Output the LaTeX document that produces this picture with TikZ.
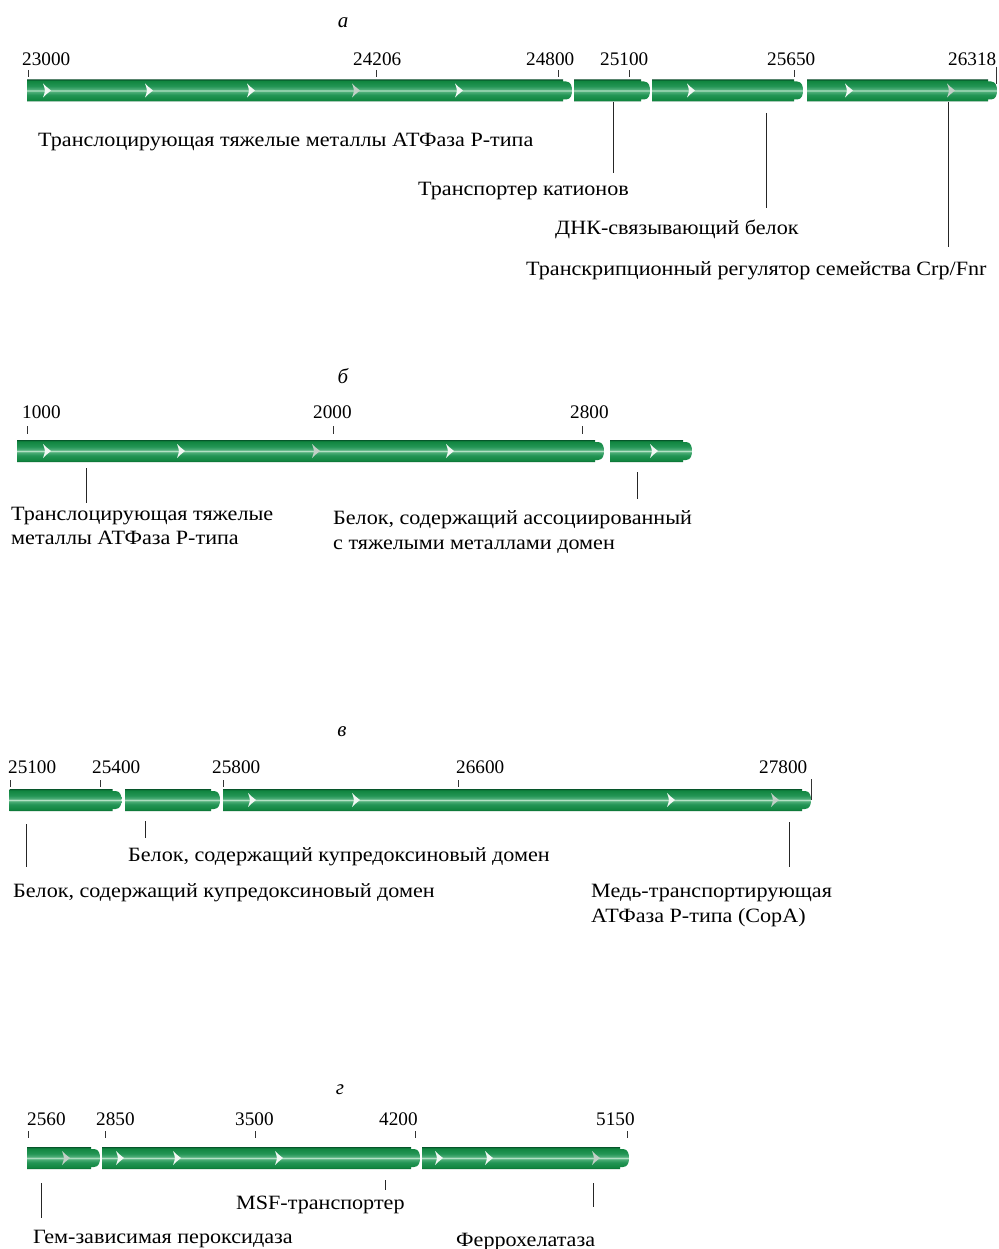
\documentclass[tikz,border=0pt]{standalone}
\usepackage{fontspec}
\setmainfont{Liberation Serif}
\newfontfamily\labfont[FakeStretch=1.09]{Liberation Serif}
\definecolor{gd}{HTML}{06552A}
\definecolor{gm}{HTML}{10853F}
\definecolor{gml}{HTML}{239555}
\definecolor{gl}{HTML}{4DAE78}
\definecolor{gw}{HTML}{B5E2C6}
\definecolor{chw}{HTML}{F2F8F4}
\definecolor{chg}{HTML}{C2D0C7}
\pgfdeclareverticalshading{genesh}{100bp}{color(0bp)=(gd); color(25bp)=(gd); color(28bp)=(gm); color(40bp)=(gml); color(47bp)=(gl); color(50bp)=(gw); color(53bp)=(gl); color(60bp)=(gml); color(72bp)=(gm); color(75bp)=(gd); color(100bp)=(gd)}
\newcommand\gene[3]{%
  \shade[shading=genesh] ({#1},{#3-11}) -- ({#2-9},{#3-11}) -- ({#2-9},{#3-9}) -- ({#2-6},{#3-9})
    .. controls ({#2-1},{#3-9}) and ({#2},{#3-4}) .. ({#2},{#3})
    .. controls ({#2},{#3+4}) and ({#2-1},{#3+9}) .. ({#2-6},{#3+9})
    -- ({#2-9},{#3+9}) -- ({#2-9},{#3+11}) -- ({#1},{#3+11}) -- cycle;}
\newcommand\chev[3][chw]{%
  \fill[#1] ({#2},{#3-7}) .. controls ({#2+3},{#3-4}) .. ({#2+8},{#3}) .. controls ({#2+3},{#3+4}) .. ({#2},{#3+7})
    .. controls ({#2+2.5},{#3}) .. ({#2},{#3-7}) -- cycle;}
\tikzset{
  lab/.style={font=\labfont\fontsize{20.3}{24}\selectfont, inner sep=0pt, anchor=base west},
  num/.style={font=\fontsize{19.2}{21}\selectfont, inner sep=0pt, anchor=base west},
  ttl/.style={font=\fontsize{21}{24}\selectfont\itshape, inner sep=0pt, anchor=base},
  tick/.style={line width=0.9pt, black!80},
  lead/.style={line width=0.9pt, black!85}
}
\begin{document}
\begin{tikzpicture}[x=1pt,y=-1pt]
\useasboundingbox (0,0) rectangle (998,1249);
% ===================== a =====================
\node[ttl] (ta) at (343,28) {а};
\node[num] (a1) at (22,66) {23000};
\node[num] (a2) at (353,66) {24206};
\node[num] (a3) at (526,66) {24800};
\node[num] (a4) at (600,66) {25100};
\node[num] (a5) at (767,66) {25650};
\node[num] (a6) at (948,66) {26318};
\draw[tick] (28,70) -- (28,77);
\draw[tick] (376,70) -- (376,77);
\draw[tick] (558,70) -- (558,77);
\draw[tick] (629,70) -- (629,77);
\draw[tick] (794,70) -- (794,77);
\draw[tick] (996.5,67) -- (996.5,84);
\gene{27}{572}{90.5}
\gene{574}{650}{90.5}
\gene{652}{803}{90.5}
\gene{807}{997}{90.5}
\foreach \x in {43,145,247}{\chev{\x}{90.5}}
\chev[chg]{352}{90.5}
\chev{455}{90.5}
\chev{687}{90.5}
\chev{845}{90.5}
\chev[chg]{947}{90.5}
\node[lab] (la1) at (38,147) {Транслоцирующая тяжелые металлы АТФаза Р-типа};
\node[lab] (la2) at (418,196) {Транспортер катионов};
\node[lab] (la3) at (555,235) {ДНК-связывающий белок};
\node[lab] (la4) at (526,276) {Транскрипционный регулятор семейства Crp/Fnr};
\coordinate (a2s) at (613,102); \coordinate (a2e) at (613,173);
\coordinate (a3s) at (766.5,113); \coordinate (a3e) at (766.5,208);
\coordinate (a4s) at (948,102); \coordinate (a4e) at (948,247);
\draw[lead] (a2s) -- (a2e);
\draw[lead] (a3s) -- (a3e);
\draw[lead] (a4s) -- (a4e);
% ===================== b =====================
\node[ttl] (tb) at (343,383) {б};
\node[num] (b1) at (22,418) {1000};
\node[num] (b2) at (313,418) {2000};
\node[num] (b3) at (570,418) {2800};
\draw[tick] (27,426) -- (27,434);
\draw[tick] (333,426) -- (333,434);
\draw[tick] (582,426) -- (582,434);
\gene{17}{604}{451}
\gene{610}{692}{451}
\chev{43}{451}
\chev{177}{451}
\chev[chg]{312}{451}
\chev{446}{451}
\chev{650}{451}
\node[lab] (lb1) at (11,520) {Транслоцирующая тяжелые};
\node[lab] (lb1b) at (11,544) {металлы АТФаза Р-типа};
\node[lab] (lb2) at (333,524) {Белок, содержащий ассоциированный};
\node[lab] (lb2b) at (333,549) {с тяжелыми металлами домен};
\coordinate (b1s) at (86,468); \coordinate (b1e) at (86,503);
\coordinate (b2s) at (637,472); \coordinate (b2e) at (637,499);
\draw[lead] (b1s) -- (b1e);
\draw[lead] (b2s) -- (b2e);
% ===================== v =====================
\node[ttl] (tv) at (342,736) {в};
\node[num] (v1) at (8,773) {25100};
\node[num] (v2) at (92,773) {25400};
\node[num] (v3) at (212,773) {25800};
\node[num] (v4) at (456,773) {26600};
\node[num] (v5) at (759,773) {27800};
\draw[tick] (10.5,780) -- (10.5,787);
\draw[tick] (100,780) -- (100,787);
\draw[tick] (223,780) -- (223,787);
\draw[tick] (458,780) -- (458,787);
\draw[tick] (811,779) -- (811,800);
\gene{9.5}{121.5}{800}
\gene{125}{220}{800}
\gene{223}{811}{800}
\chev{248}{800}
\chev{352}{800}
\chev{667}{800}
\chev[chg]{771}{800}
\node[lab] (lv1) at (128,861) {Белок, содержащий купредоксиновый домен};
\node[lab] (lv2) at (13,897) {Белок, содержащий купредоксиновый домен};
\node[lab] (lv3) at (591,897) {Медь-транспортирующая};
\node[lab] (lv3b) at (591,922) {АТФаза Р-типа (CopA)};
\coordinate (v1s) at (26.7,824); \coordinate (v1e) at (26.7,867);
\coordinate (v2s) at (145,821); \coordinate (v2e) at (145,838);
\coordinate (v3s) at (789,822); \coordinate (v3e) at (789,867);
\draw[lead] (v1s) -- (v1e);
\draw[lead] (v2s) -- (v2e);
\draw[lead] (v3s) -- (v3e);
% ===================== g =====================
\node[ttl] (tg) at (340,1094) {г};
\node[num] (g1) at (27,1125) {2560};
\node[num] (g2) at (96,1125) {2850};
\node[num] (g3) at (235,1125) {3500};
\node[num] (g4) at (379,1125) {4200};
\node[num] (g5) at (596,1125) {5150};
\draw[tick] (28.5,1131) -- (28.5,1138);
\draw[tick] (105,1131) -- (105,1138);
\draw[tick] (255.5,1131) -- (255.5,1138);
\draw[tick] (415,1131) -- (415,1138);
\draw[tick] (627,1131) -- (627,1138);
\gene{27}{100}{1158}
\gene{102}{420}{1158}
\gene{422}{629}{1158}
\chev[chg]{62}{1158}
\chev{116}{1158}
\chev{173}{1158}
\chev{275}{1158}
\chev{435}{1158}
\chev{485}{1158}
\chev[chg]{592}{1158}
\node[lab] (lg1) at (236,1209) {MSF-транспортер};
\node[lab] (lg2) at (33,1243) {Гем-зависимая пероксидаза};
\node[lab] (lg3) at (456,1246) {Феррохелатаза};
\coordinate (g1s) at (41,1183); \coordinate (g1e) at (41,1218);
\coordinate (g2s) at (385,1180); \coordinate (g2e) at (385,1190);
\coordinate (g3s) at (593,1183); \coordinate (g3e) at (593,1207);
\draw[lead] (g1s) -- (g1e);
\draw[lead] (g2s) -- (g2e);
\draw[lead] (g3s) -- (g3e);
\end{tikzpicture}
\end{document}
